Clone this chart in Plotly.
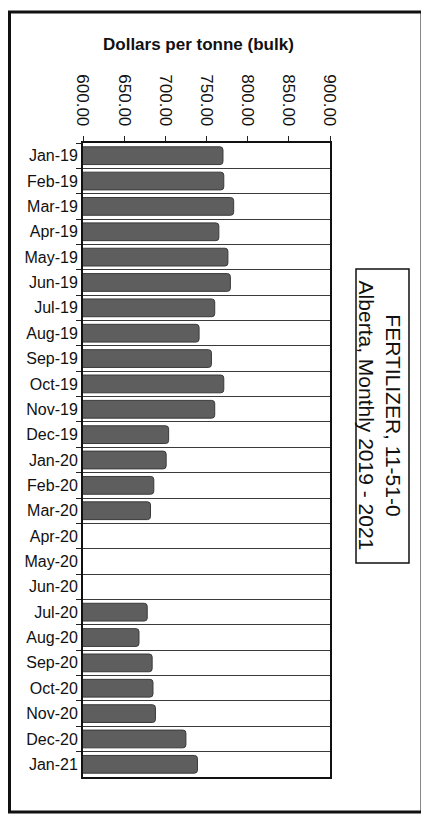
import plotly.graph_objects as go

categories = ["Jan-19", "Feb-19", "Mar-19", "Apr-19", "May-19", "Jun-19", "Jul-19",
              "Aug-19", "Sep-19", "Oct-19", "Nov-19", "Dec-19", "Jan-20", "Feb-20",
              "Mar-20", "Apr-20", "May-20", "Jun-20", "Jul-20", "Aug-20", "Sep-20",
              "Oct-20", "Nov-20", "Dec-20", "Jan-21"]
prices = [770, 771, 783, 765, 776, 779, 760, 741, 756, 771, 760, 704, 701, 686,
          682, None, None, None, 678, 668, 684, 685, 688, 725, 739]
tick_values = [600, 650, 700, 750, 800, 850, 900]
tick_labels = ["600.00", "650.00", "700.00", "750.00", "800.00", "850.00", "900.00"]
axis_title = "Dollars per tonne (bulk)"
chart_title = "FERTILIZER, 11-51-0<br>Alberta, Monthly 2019 - 2021"

FONT = "Arial, Liberation Sans, sans-serif"

fig = go.Figure(go.Bar(
    y=categories, x=prices, orientation="h",
    marker=dict(color="#5e5e5e", line=dict(color="#3a3a3a", width=1), cornerradius=3),
    width=0.7,
))

fig.update_layout(
    width=421, height=806,
    margin=dict(l=75, r=99, t=135, b=37, autoexpand=False),
    paper_bgcolor="white", plot_bgcolor="white",
    font=dict(family=FONT, size=16, color="#111111"),
    showlegend=False,
    xaxis=dict(
        side="top", range=[600, 900], tickvals=tick_values, ticktext=tick_labels,
        tickangle=90, ticks="outside", ticklen=5, tickcolor="#222", showgrid=False,
        showline=True, linecolor="#111", linewidth=1.5, mirror=True, zeroline=False,
        tickfont=dict(size=17), automargin=False, ticklabelstandoff=4,
    ),
    yaxis=dict(
        autorange="reversed", tickson="boundaries", ticks="outside", ticklen=5,
        tickcolor="#222", showgrid=True, gridcolor="#3a3a3a", gridwidth=1,
        showline=True, linecolor="#111", linewidth=2, mirror=True,
        tickfont=dict(size=16), automargin=False,
    ),
    annotations=[
        dict(text="<b>" + axis_title + "</b>", xref="paper", yref="paper",
             x=0.466, y=1.1546, xanchor="center", yanchor="middle",
             showarrow=False, font=dict(size=17, color="#111")),
        dict(text=chart_title, xref="paper", yref="paper", x=1.204, y=0.5694,
             xanchor="center", yanchor="middle",
             showarrow=False, textangle=90, font=dict(size=21, color="#111"),
             align="center"),
    ],
    shapes=[
        dict(type="rect", xref="paper", yref="paper", x0=-0.2976, x1=1.3725,
             y0=-0.0552, y1=1.2066, line=dict(color="#111", width=3)),
        dict(type="rect", xref="paper", yref="paper", x0=1.1053, x1=1.3198,
             y0=0.3375, y1=0.8013, line=dict(color="#111", width=1.5)),
    ],
)

fig.write_html("out.html")
